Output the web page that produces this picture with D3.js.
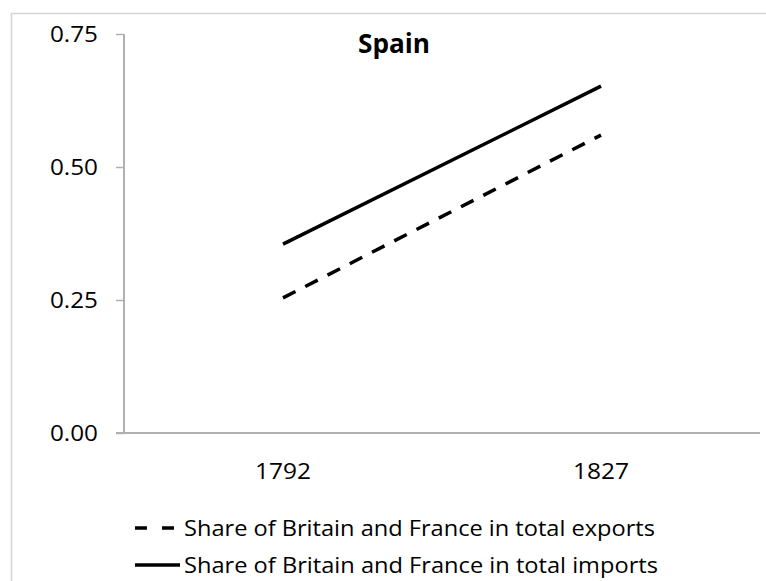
<!DOCTYPE html>
<html>
<head>
<meta charset="utf-8">
<script src="https://cdn.jsdelivr.net/npm/d3@7"></script>
<style>
  body { margin: 0; background: #fff; }
  svg text { font-family: "Open Sans", sans-serif; fill: #000; }
</style>
</head>
<body>
<svg width="766" height="581"></svg>
<script>
var years = ["1792", "1827"];
var exportsShare = [0.254, 0.56];
var importsShare = [0.355, 0.652];
var yTicks = [0, 0.25, 0.5, 0.75];
var seriesNames = ["Share of Britain and France in total exports",
                   "Share of Britain and France in total imports"];

var svg = d3.select("svg"),
    width = +svg.attr("width"),
    height = +svg.attr("height");

// chart area frame (only top and left edges visible)
svg.append("path")
    .attr("d", "M11.5," + height + "V13.5H" + width)
    .attr("fill", "none")
    .attr("stroke", "#d4d4d4")
    .attr("stroke-width", 1.5);

var x = d3.scaleBand()
    .domain(years)
    .range([124, 760]);

var y = d3.scaleLinear()
    .domain([0, 0.75])
    .range([433, 34]);

// y axis
var yAxis = svg.append("g")
    .attr("transform", "translate(124,0)")
    .call(d3.axisLeft(y).tickValues(yTicks).tickFormat(d3.format(".2f")).tickSize(8).tickPadding(18));
yAxis.select(".domain").attr("stroke", "#b0b0b0").attr("stroke-width", 2)
    .attr("d", "M0," + y(0.75) + "V" + y(0));
yAxis.selectAll(".tick line").attr("stroke", "#b0b0b0").attr("stroke-width", 1.5);
yAxis.selectAll(".tick text").style("font-size", "22px").attr("fill", "#000")
    .attr("textLength", 48).attr("lengthAdjust", "spacingAndGlyphs");

// x axis
var xAxis = svg.append("g")
    .attr("transform", "translate(0," + y(0) + ")")
    .call(d3.axisBottom(x).tickSize(0).tickPadding(30));
xAxis.select(".domain").attr("stroke", "#b0b0b0").attr("stroke-width", 2)
    .attr("d", "M116,0H760");
xAxis.selectAll(".tick text").style("font-size", "22px").attr("fill", "#000")
    .attr("textLength", 56).attr("lengthAdjust", "spacingAndGlyphs");

var line = d3.line()
    .x(function(d, i) { return x(years[i]) + x.bandwidth() / 2; })
    .y(function(d) { return y(d); });

svg.append("path")
    .datum(exportsShare)
    .attr("d", line)
    .attr("fill", "none")
    .attr("stroke", "#000")
    .attr("stroke-width", 3.5)
    .attr("stroke-dasharray", "14,11");

svg.append("path")
    .datum(importsShare)
    .attr("d", line)
    .attr("fill", "none")
    .attr("stroke", "#000")
    .attr("stroke-width", 3.5);

// title
svg.append("text")
    .attr("x", 394).attr("y", 53)
    .attr("text-anchor", "middle")
    .style("font-size", "26px")
    .style("font-weight", "bold")
    .attr("textLength", 72).attr("lengthAdjust", "spacingAndGlyphs")
    .text("Spain");

// legend
var legend = svg.append("g").attr("class", "legend");
seriesNames.forEach(function(name, i) {
  var ly = 528 + i * 37;
  legend.append("line")
      .attr("x1", 135).attr("x2", i == 0 ? 176 : 180)
      .attr("y1", ly).attr("y2", ly)
      .attr("stroke", "#000")
      .attr("stroke-width", 3.5)
      .attr("stroke-dasharray", i == 0 ? "12,15" : null);
  legend.append("text")
      .attr("x", 184).attr("y", ly + 8)
      .style("font-size", "22px")
      .attr("textLength", i == 0 ? 471 : 474)
      .attr("lengthAdjust", "spacingAndGlyphs")
      .text(name);
});
</script>
</body>
</html>
